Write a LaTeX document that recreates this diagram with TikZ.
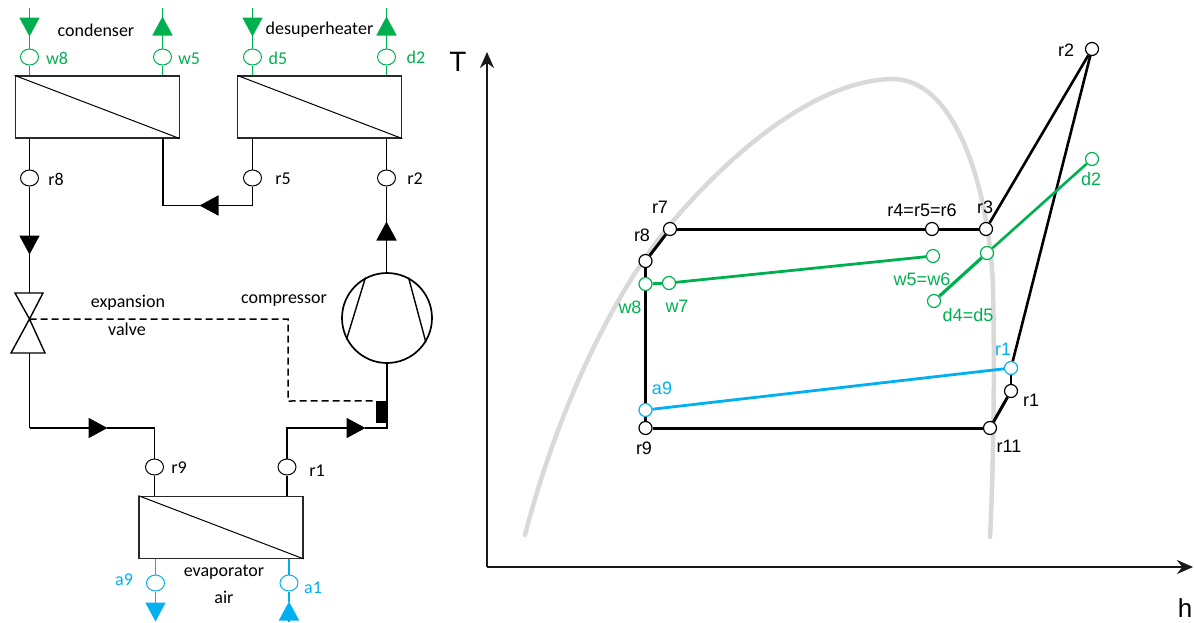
\documentclass[tikz,border=0pt]{standalone}
\usepackage{fontspec}
\setmainfont{Carlito}
\newfontfamily\arialfont{Liberation Sans}
\usetikzlibrary{arrows.meta,shapes.geometric}
\definecolor{cgreen}{RGB}{0,176,80}
\definecolor{cblue}{RGB}{0,176,240}
\definecolor{cdome}{RGB}{217,217,217}
\definecolor{cbox}{RGB}{40,40,40}
\tikzset{
  hx/.style={draw=cbox, line width=1.2pt, fill=white, minimum width=164pt, minimum height=62pt, inner sep=0pt},
  pipe/.style={line width=1.8pt},
  water/.style={line width=1.8pt, cgreen},
  air/.style={line width=1.8pt, cblue},
  flow/.style={-{Triangle[length=19pt,width=20pt,sep=-0.5pt]}},
  probe/.style={ellipse, draw=black, line width=1pt, fill=white, minimum width=18pt, minimum height=16pt, inner sep=0pt},
  state/.style={circle, draw=black, line width=1.2pt, fill=white, minimum size=13pt, inner sep=0pt},
  txt/.style={font=\fontsize{18}{18}\selectfont, inner sep=0pt},
  tag/.style={font=\arialfont\fontsize{18}{18}\selectfont, inner sep=0pt},
  cyc/.style={line width=3pt},
}
\begin{document}
\begin{tikzpicture}[x=1pt, y=-1pt]
\useasboundingbox (0,0) rectangle (1194,622);
% heat exchangers
\node[hx] (cond) at (97.25,107) {};
\node[hx] (desup) at (319.75,107) {};
\node[hx] (evap) at (221,527.25) {};
\draw[line width=1pt] (cond.north west) -- (cond.south east);
\draw[line width=1pt] (desup.north west) -- (desup.south east);
\draw[line width=1pt] (evap.north west) -- (evap.south east);
% probes
\node[probe, draw=cgreen] (w8) at (29.5,57) {};
\node[probe, draw=cgreen] (w5) at (162.5,57) {};
\node[probe, draw=cgreen] (d5) at (252.5,57) {};
\node[probe, draw=cgreen] (d2) at (386.5,57) {};
\node[probe] (r8) at (29.5,178) {};
\node[probe] (r5) at (252.5,178) {};
\node[probe] (r2) at (386.5,178) {};
\node[probe] (r9) at (154.5,467) {};
\node[probe] (r1) at (287,467) {};
\node[probe, draw=cblue] (a9) at (155.5,583) {};
\node[probe, draw=cblue] (a1) at (289,583) {};
% water side
\coordinate (w8in) at (29.5,8);
\coordinate (w8tip) at (29.5,36);
\coordinate (w5out) at (162.5,8);
\coordinate (w5tip) at (162.5,17);
\coordinate (d5in) at (252.5,8);
\coordinate (d5tip) at (252.5,36);
\coordinate (d2out) at (386.5,8);
\coordinate (d2tip) at (386.5,17);
\draw[water, flow] (w8in) -- (w8tip);
\draw[water] (w8tip) -- (w8);
\draw[water] (w8) -- (w8 |- cond.north);
\draw[water] (w5 |- cond.north) -- (w5);
\draw[water, flow] (w5) -- (w5tip);
\draw[water] (w5tip) -- (w5out);
\draw[water, flow] (d5in) -- (d5tip);
\draw[water] (d5tip) -- (d5);
\draw[water] (d5) -- (d5 |- desup.north);
\draw[water] (d2 |- desup.north) -- (d2);
\draw[water, flow] (d2) -- (d2tip);
\draw[water] (d2tip) -- (d2out);
% refrigerant
\node[circle, draw=black, line width=1.7pt, fill=white, minimum size=90pt, inner sep=0pt] (comp) at (387,318) {};
\draw[line width=1.4pt] (comp.118) -- (comp.208);
\draw[line width=1.4pt] (comp.62) -- (comp.-32);
\coordinate (r2tip) at (386.5,222);
\coordinate (r5tip) at (200,205.5);
\coordinate (r5c) at (252.5,205.5);
\coordinate (r8tip) at (29.5,254);
\coordinate (valve) at (29.5,319);
\coordinate (valveT) at (29.5,293);
\coordinate (valveB) at (29.5,353);
\coordinate (c9a) at (29.5,428);
\coordinate (r9tip) at (107,428);
\coordinate (r1tip) at (365,428);
\draw[pipe] (desup.south -| r2) -- (r2);
\draw[pipe, flow] (comp.north -| r2) -- (r2tip);
\draw[pipe] (r2tip) -- (r2);
\draw[pipe] (desup.south -| r5) -- (r5);
\draw[pipe] (r5) -- (r5c);
\draw[pipe, flow] (r5c) -- (r5tip);
\draw[pipe] (r5tip) -- (163,205.5) -- (163,138);
\draw[pipe] (cond.south -| r8) -- (r8);
\draw[pipe, flow] (r8) -- (r8tip);
\draw[pipe] (r8tip) -- (valveT);
\draw[line width=1.4pt] (valve) -- (15,293) -- (43,293) -- cycle;
\draw[line width=1.4pt] (valve) -- (11,353) -- (45,353) -- cycle;
\draw[pipe] (valveB) -- (c9a);
\draw[pipe, flow] (c9a) -- (r9tip);
\draw[pipe] (r9tip) -- (154.5,428) -- (r9);
\draw[pipe] (r9) -- (r9 |- evap.north);
\draw[pipe] (r1 |- evap.north) -- (r1);
\draw[pipe, flow] (r1) -- (287,428) -- (r1tip);
\draw[pipe] (r1tip) -- (387,428) -- (comp.south);
\node[fill=black, minimum width=11pt, minimum height=22pt, inner sep=0pt] (bulb) at (381.5,412) {};
\draw[line width=1.5pt, dash pattern=on 7pt off 4pt] (valve) -- (288,319) -- (288,401) -- (bulb.north west);
% air side
\coordinate (a9tip) at (155.5,621);
\coordinate (a1tip) at (289,602);
\coordinate (a1in) at (289,622);
\draw[air] (a9 |- evap.south) -- (a9);
\draw[air, flow] (a9) -- (a9tip);
\draw[air] (a1 |- evap.south) -- (a1);
\draw[air, flow] (a1in) -- (a1tip);
\draw[air] (a1tip) -- (a1);
% labels left
\node[txt] (tcond) at (96,30) {condenser};
\node[txt] (tdesup) at (319.5,30) {desuperheater};
\node[txt, cgreen] (tw8) at (57,58) {w8};
\node[txt, cgreen] (tw5) at (189,59) {w5};
\node[txt, cgreen] (td5) at (278,58) {d5};
\node[txt, cgreen] (td2) at (416,57) {d2};
\node[txt] (tr8) at (56,179) {r8};
\node[txt] (tr5) at (283,179) {r5};
\node[txt] (tr2) at (415,179) {r2};
\node[txt] (texp) at (128,303) {expansion};
\node[txt] (tval) at (127,329) {valve};
\node[txt] (tcomp) at (284,301) {compressor};
\node[txt] (tr9) at (179,468) {r9};
\node[txt] (tr1) at (317,471) {r1};
\node[txt] (tevap) at (224,572) {evaporator};
\node[txt] (tair) at (224,597) {air};
\node[txt, cblue] (ta9) at (124,580) {a9};
\node[txt, cblue] (ta1) at (313,588) {a1};
% T-h diagram
\coordinate (orig) at (487,567);
\coordinate (taxis) at (487,52);
\coordinate (haxis) at (1193,567);
\draw[line width=2.4pt, black!90, -{Stealth[length=16pt,width=14pt]}] (orig) -- (taxis);
\draw[line width=2.4pt, black!90, -{Stealth[length=16pt,width=14pt]}] (orig) -- (haxis);
\node[font=\arialfont\fontsize{28}{28}\selectfont, inner sep=0pt] (tT) at (458,62) {T};
\node[font=\arialfont\fontsize{26}{26}\selectfont, inner sep=0pt] (th) at (1185,608) {h};
% dome
\draw[cdome, line width=4.5pt, line cap=round] (525,535) .. controls (560,400) and (620,280) .. (680,213) .. controls (740,145) and (820,80) .. (893,79) .. controls (960,80) and (990,200) .. (993,287) .. controls (995,380) and (993,480) .. (990,537);
% states
\node[state] (sr2) at (1092,49) {};
\node[state] (sr3) at (986,229) {};
\node[state] (sr4) at (932,229) {};
\node[state] (sr7) at (670,229) {};
\node[state] (sr8) at (645.5,261) {};
\node[state] (sr9) at (645.5,428) {};
\node[state] (sr11) at (990,428) {};
\node[state] (sr1) at (1011,391) {};
\node[state, draw=cblue] (sa1) at (1011,368) {};
\node[state, draw=cblue] (sa9) at (645.5,410) {};
\node[state, draw=cgreen] (sw8) at (645.5,284) {};
\node[state, draw=cgreen] (sw7) at (669,283) {};
\node[state, draw=cgreen] (sw5) at (933,256) {};
\node[state, draw=cgreen] (sd2) at (1092,159) {};
\node[state, draw=cgreen] (sdm) at (987,253) {};
\node[state, draw=cgreen] (sd4) at (934,301) {};
% cycle
\draw[cyc] (sr7) -- (sr4);
\draw[cyc] (sr4) -- (sr3);
\draw[cyc] (sr7) -- (sr8);
\draw[cyc] (sr8) -- (sw8);
\draw[cyc] (sw8) -- (sa9);
\draw[cyc] (sa9) -- (sr9);
\draw[cyc] (sr9) -- (sr11);
\draw[cyc] (sr11) -- (sr1);
\draw[cyc, line width=2.6pt] (sr1) -- (sa1);
\draw[cyc, line width=2.6pt] (sa1) -- (sr2);
\draw[cyc, line width=2.6pt] (sr3) -- (sr2);
\draw[cgreen, line width=2.8pt] (sw8) -- (sw7);
\draw[cgreen, line width=2.8pt] (sw7) -- (sw5);
\draw[cgreen, line width=3.2pt] (sd4) -- (sdm);
\draw[cgreen, line width=2.6pt] (sdm) -- (sd2);
\draw[cblue, line width=2.8pt] (sa9) -- (sa1);
% labels right
\node[tag] (lr2) at (1066,50) {r2};
\node[tag, cgreen] (ld2) at (1091,179) {d2};
\node[tag] (lr3) at (985,207) {r3};
\node[tag] (lr4) at (922,210) {r4=r5=r6};
\node[tag, cgreen] (lw5) at (922,279) {w5=w6};
\node[tag, cgreen] (ld4) at (968,315) {d4=d5};
\node[tag, cblue] (la1) at (1003,349) {r1};
\node[tag] (lr1) at (1031,400) {r1};
\node[tag] (lr11) at (1009,446) {r11};
\node[tag, cblue] (la9) at (662,388) {a9};
\node[tag, cgreen] (lw8) at (630,307) {w8};
\node[tag, cgreen] (lw7) at (677,306) {w7};
\node[tag] (lr7) at (660,207) {r7};
\node[tag] (lr8) at (642,235) {r8};
\node[tag] (lr9) at (644,448) {r9};
\end{tikzpicture}
\end{document}
